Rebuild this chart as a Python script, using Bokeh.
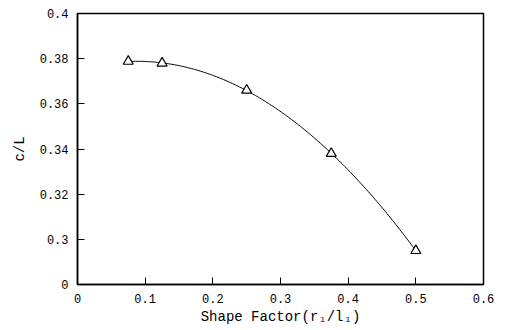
import numpy as np
from bokeh.plotting import figure
from bokeh.models import Range1d, FixedTicker
from bokeh.embed import file_html
from bokeh.resources import INLINE

# ---- data ----
shape_factor = [0.075, 0.125, 0.25, 0.375, 0.5]
c_over_l = [0.3788, 0.378, 0.366, 0.338, 0.295]

x_ticks = [0, 0.1, 0.2, 0.3, 0.4, 0.5, 0.6]
x_tick_labels = ["0", "0.1", "0.2", "0.3", "0.4", "0.5", "0.6"]
# broken y axis: the bottom position is labelled "0"
y_ticks = [0.28, 0.30, 0.32, 0.34, 0.36, 0.38, 0.40]
y_tick_labels = ["0", "0.3", "0.32", "0.34", "0.36", "0.38", "0.4"]

# smooth least-squares fit curve through the measured points
coef = np.polyfit(shape_factor, c_over_l, 2)
curve_x = np.linspace(shape_factor[0], shape_factor[-1], 200)
curve_y = np.polyval(coef, curve_x)

p = figure(width=500, height=328, output_backend="svg", toolbar_location=None,
           x_range=Range1d(0, 0.6), y_range=Range1d(0.28, 0.40),
           min_border_left=77, min_border_right=17, min_border_top=13,
           min_border_bottom=44)

p.line(curve_x, curve_y, line_color="black", line_width=1)
p.scatter(shape_factor, c_over_l, marker="triangle", size=10,
          fill_color="white", line_color="black", line_width=1.2)

p.xgrid.visible = False
p.ygrid.visible = False
p.outline_line_color = "black"
p.outline_line_width = 1.5
p.outline_line_alpha = 1

FONT = "Liberation Mono"
for ax, ticks, labels in ((p.xaxis[0], x_ticks, x_tick_labels),
                          (p.yaxis[0], y_ticks, y_tick_labels)):
    ax.ticker = FixedTicker(ticks=ticks)
    ax.major_label_overrides = {t: l for t, l in zip(ticks, labels)}
    ax.minor_tick_line_color = None
    ax.major_tick_in = 7
    ax.major_tick_out = 0
    ax.major_tick_line_color = "black"
    ax.axis_line_color = "black"
    ax.axis_line_width = 1.5
    ax.major_label_text_font = FONT
    ax.major_label_text_font_size = "12px"
    ax.major_label_text_color = "black"
    ax.axis_label_text_font = FONT
    ax.axis_label_text_font_size = "14px"
    ax.axis_label_text_font_style = "normal"
    ax.axis_label_text_color = "black"

p.xaxis.axis_label = "Shape Factor(r\u2081/l\u2081)"
p.yaxis.axis_label = "c/L"
p.xaxis.major_label_standoff = 9
p.xaxis.axis_label_standoff = 3
p.yaxis.major_label_standoff = 9
p.yaxis.axis_label_standoff = 9

open("out.html", "w").write(file_html(p, INLINE))
